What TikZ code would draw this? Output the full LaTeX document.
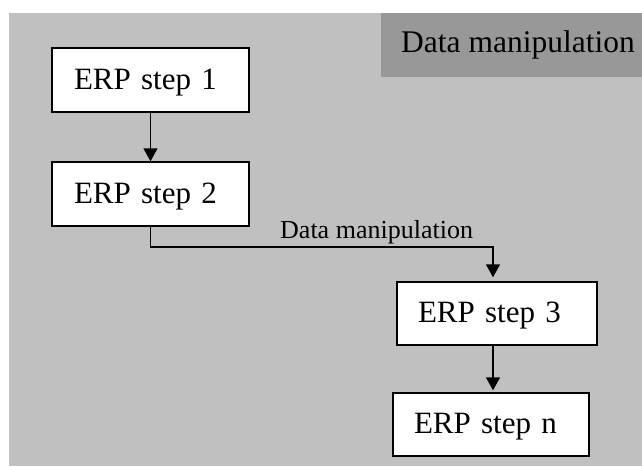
\documentclass[tikz,border=0pt]{standalone}
\usepackage{fontspec}
\setmainfont{Liberation Serif}
\usetikzlibrary{arrows.meta}

\definecolor{panelgray}{RGB}{192,192,192}
\definecolor{headgray}{RGB}{152,152,152}

\tikzset{
  stepbox/.style={draw=black, line width=1.4pt, fill=white, rectangle,
    font=\fontsize{31}{36}\selectfont, align=left,
    inner ysep=0pt, text height=24pt, text depth=6pt},
  flow/.style={line width=1.4pt, -{Triangle[width=14pt,length=13pt]}},
}

\begin{document}
\begin{tikzpicture}[x=1pt, y=-1pt]
  \useasboundingbox (0,0) rectangle (642,466);
  % panel background
  \fill[panelgray] (9,13) rectangle (642,466);

  % header tab
  \fill[headgray] (381,13) rectangle (642,77);
  \node[anchor=base west, inner sep=0pt,
        font=\fontsize{31.5}{36}\selectfont] (head) at (401,52) {Data manipulation};

  % process steps
  \node[stepbox, minimum width=197pt, minimum height=64pt,
        inner xsep=22pt, text width=153pt] (s1) at (150.5,80) {ERP step 1};
  \node[stepbox, minimum width=197pt, minimum height=64pt,
        inner xsep=22pt, text width=153pt] (s2) at (150.5,194) {ERP step 2};
  \node[stepbox, minimum width=200pt, minimum height=63pt,
        inner xsep=21pt, text width=158pt] (s3) at (497,313.5) {ERP step 3};
  \node[stepbox, minimum width=196pt, minimum height=63pt,
        inner xsep=21pt, text width=154pt] (sn) at (491,424.5) {ERP step n};

  % connectors
  \draw[flow] (s1) -- (s2);
  \coordinate (bend) at (493,247);
  \draw[flow] (s2.south) |- (bend) -- ([yshift=4pt]bend |- s3.north);
  \draw[flow] (bend |- s3.south) -- ([yshift=2pt]bend |- sn.north);

  % connector label
  \node[anchor=base west, inner sep=0pt, font=\fontsize{26}{30}\selectfont]
    (lbl) at (280,238) {Data manipulation};
\end{tikzpicture}
\end{document}
